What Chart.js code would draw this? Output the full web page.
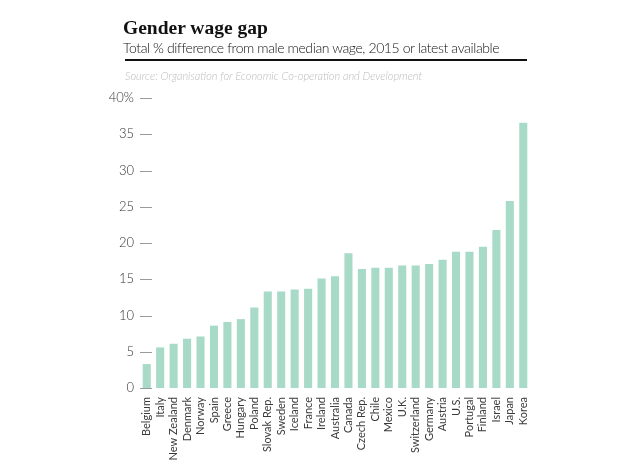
<!DOCTYPE html>
<html>
<head>
<meta charset="utf-8">
<script src="https://cdn.jsdelivr.net/npm/chart.js@4/dist/chart.umd.min.js"></script>
<style>
  html,body{margin:0;padding:0;background:#fff;}
  #wrap{position:relative;width:620px;height:465px;overflow:hidden;}
  #c{position:absolute;left:0;top:0;}
  .t{position:absolute;white-space:nowrap;}
  #title{left:123px;top:17px;font-family:"Liberation Serif",serif;font-weight:bold;font-size:19.5px;color:#111;}
  #sub{left:123px;top:39px;font-family:"Lato",sans-serif;font-weight:300;font-size:14px;letter-spacing:-0.4px;color:#111;}
  #rule{position:absolute;left:125px;top:59px;width:402px;height:2px;background:#111;}
  #src{left:125px;top:69px;font-family:"Lato",sans-serif;font-style:italic;font-weight:300;font-size:11px;color:#bcbcbc;}
</style>
</head>
<body>
<div id="wrap">
  <canvas id="c" width="620" height="465"></canvas>
  <div class="t" id="title">Gender wage gap</div>
  <div class="t" id="sub">Total % difference from male median wage, 2015 or latest available</div>
  <div id="rule"></div>
  <div class="t" id="src">Source: Organisation for Economic Co-operation and Development</div>
</div>
<script>
const countries = ["Belgium","Italy","New Zealand","Denmark","Norway","Spain","Greece","Hungary","Poland","Slovak Rep.","Sweden","Iceland","France","Ireland","Australia","Canada","Czech Rep.","Chile","Mexico","U.K.","Switzerland","Germany","Austria","U.S.","Portugal","Finland","Israel","Japan","Korea"];
const gap = [3.3,5.6,6.1,6.8,7.1,8.6,9.1,9.5,11.1,13.3,13.3,13.6,13.7,15.1,15.4,18.6,16.4,16.6,16.6,16.9,16.9,17.1,17.7,18.8,18.8,19.5,21.8,25.8,36.6];
const yTicks = [0,5,10,15,20,25,30,35,40];

const dashPlugin = {
  id:'dashes',
  afterDraw(chart){
    const y = chart.scales.y, ctx = chart.ctx, left = chart.chartArea.left;
    ctx.save();
    ctx.strokeStyle = '#9a9a9a';
    ctx.lineWidth = 1;
    yTicks.forEach(v=>{
      const py = Math.round(y.getPixelForValue(v)) + 0.5;
      ctx.beginPath();
      ctx.moveTo(left, py);
      ctx.lineTo(left + 12, py);
      ctx.stroke();
    });
    ctx.restore();
  }
};

new Chart(document.getElementById('c'), {
  type:'bar',
  data:{labels:countries, datasets:[{data:gap, backgroundColor:'#a8dac8', barPercentage:0.6, categoryPercentage:1.0}]},
  options:{
    responsive:false, animation:false,
    layout:{padding:{left:0, right:90, top:98, bottom:0}},
    plugins:{legend:{display:false}, tooltip:{enabled:false}},
    scales:{
      x:{
        grid:{display:false, drawTicks:false}, border:{display:false},
        afterFit(s){ s.height = 77; },
        ticks:{minRotation:90, maxRotation:90, autoSkip:false, padding:9, color:'#3a3a3a',
               font:{family:'Lato', size:11, weight:400}}
      },
      y:{
        min:0, max:40, afterBuildTicks(s){ s.ticks = yTicks.map(v=>({value:v})); },
        afterFit(s){ s.width = 140; },
        grid:{display:false, drawTicks:false}, border:{display:false},
        ticks:{padding:6, color:'#333', font:{family:'Lato', size:13, weight:300},
               callback:(v)=> v===40 ? '40%' : String(v)}
      }
    }
  },
  plugins:[dashPlugin]
});
</script>
</body>
</html>
